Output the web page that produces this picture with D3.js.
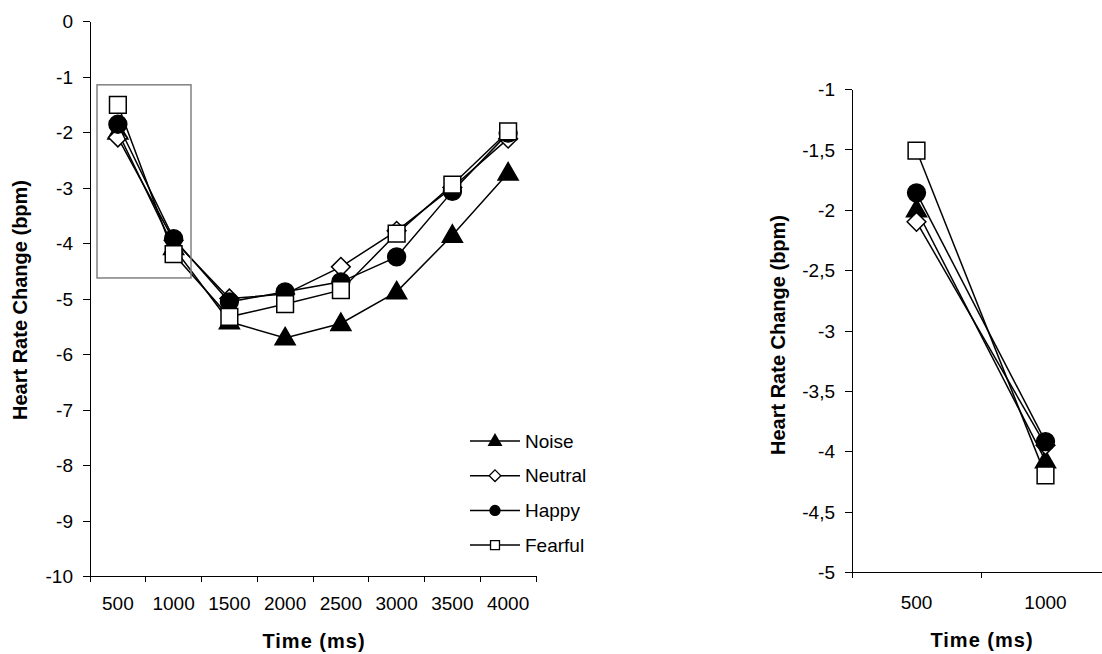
<!DOCTYPE html>
<html>
<head>
<meta charset="utf-8">
<script src="https://cdn.jsdelivr.net/npm/d3@7/dist/d3.min.js"></script>
<style>
  html, body { margin: 0; padding: 0; background: #fff; }
  svg { display: block; font-family: Arial, "Liberation Sans", sans-serif; }
  .tick text { font-size: 19px; fill: #000; }
  .axis path, .axis line { stroke: #000; stroke-width: 1; shape-rendering: crispEdges; }
  .title { font-weight: bold; font-size: 20px; fill: #000; }
</style>
</head>
<body>
<svg id="chart" width="1102" height="654"></svg>
<script>
// Time windows after stimulus onset (ms)
const times = ["500", "1000", "1500", "2000", "2500", "3000", "3500", "4000"];
const zoomTimes = ["500", "1000"];

// Mean heart rate change (bpm) per condition
const noise   = [-2.00, -4.08, -5.42, -5.71, -5.45, -4.88, -3.86, -2.74];
const neutral = [-2.10, -3.95, -5.00, -4.92, -4.43, -3.78, -3.00, -2.12];
const happy   = [-1.86, -3.92, -5.06, -4.88, -4.70, -4.25, -3.07, -2.02];
const fearful = [-1.51, -4.20, -5.33, -5.10, -4.85, -3.83, -2.95, -1.99];

const seriesNames = ["Noise", "Neutral", "Happy", "Fearful"];
const leftTicks = [0, -1, -2, -3, -4, -5, -6, -7, -8, -9, -10];
const rightTicks = [-1, -1.5, -2, -2.5, -3, -3.5, -4, -4.5, -5];

// Marker glyphs: size is the area in px²
const triangleUp = {
  draw(ctx, size) {
    const s = Math.sqrt(size / (Math.sqrt(3) / 4));
    const h = s * Math.sqrt(3) / 2;
    ctx.moveTo(0, -h * 0.6);
    ctx.lineTo(s / 2, h * 0.4);
    ctx.lineTo(-s / 2, h * 0.4);
    ctx.closePath();
  }
};
const diamond = {
  draw(ctx, size) {
    const r = Math.sqrt(size / 2);
    ctx.moveTo(0, -r); ctx.lineTo(r, 0); ctx.lineTo(0, r); ctx.lineTo(-r, 0);
    ctx.closePath();
  }
};

const series = [
  { name: "Noise", values: noise, shape: triangleUp, fill: "#000", size: 175, legSize: 70 },
  { name: "Neutral", values: neutral, shape: diamond, fill: "#fff", size: 175, legSize: 68 },
  { name: "Happy", values: happy, shape: d3.symbolCircle, fill: "#000", size: 250, legSize: 78 },
  { name: "Fearful", values: fearful, shape: d3.symbolSquare, fill: "#fff", size: 280, legSize: 80 }
];

const svg = d3.select("#chart");

function panel(cfg) {
  const x = d3.scaleBand().domain(cfg.cats).range([cfg.x0, cfg.x1]).padding(0);
  const y = d3.scaleLinear().domain(cfg.domain).range([cfg.yBottom, cfg.yTop]);
  const g = svg.append("g");

  // y axis
  g.append("g").attr("class", "axis")
    .attr("transform", `translate(${cfg.x0},0)`)
    .call(d3.axisLeft(y).tickValues(cfg.yTicks).tickSize(7).tickSizeOuter(0).tickPadding(10)
      .tickFormat(cfg.fmt))
    .call(a => a.selectAll(".tick text").attr("dy", "0.35em"));

  // x axis with ticks on band boundaries
  const xa = g.append("g").attr("class", "axis")
    .attr("transform", `translate(0,${cfg.yBottom})`);
  xa.append("line").attr("x1", cfg.x0).attr("x2", cfg.x1).attr("y1", 0).attr("y2", 0);
  const edges = cfg.cats.map(c => x(c)).concat([cfg.x1]);
  xa.selectAll("line.tk").data(edges).join("line").attr("class", "tk")
    .attr("x1", d => d).attr("x2", d => d).attr("y1", 0).attr("y2", 6);
  xa.selectAll("text").data(cfg.cats).join("text")
    .attr("x", d => x(d) + x.bandwidth() / 2).attr("y", cfg.xLabelY)
    .attr("text-anchor", "middle").attr("font-size", 19).text(d => d);

  // series lines and markers
  const line = d3.line().x((d, i) => x(cfg.cats[i]) + x.bandwidth() / 2).y(d => y(d));
  series.forEach(s => {
    const vals = s.values.slice(0, cfg.cats.length);
    g.append("path").attr("d", line(vals))
      .attr("fill", "none").attr("stroke", "#000").attr("stroke-width", 1.5);
    g.selectAll(null).data(vals).join("path")
      .attr("transform", (d, i) => `translate(${x(cfg.cats[i]) + x.bandwidth() / 2},${y(d)})`)
      .attr("d", d3.symbol().type(s.shape).size(s.size)())
      .attr("fill", s.fill).attr("stroke", "#000").attr("stroke-width", 1.5);
  });

  // axis titles
  g.append("text").attr("class", "title")
    .attr("transform", `translate(${cfg.yTitleX},${cfg.yTitleY}) rotate(-90)`)
    .attr("text-anchor", "middle").text("Heart Rate Change (bpm)");
  g.append("text").attr("class", "title")
    .attr("x", cfg.xTitleX).attr("y", cfg.xTitleY)
    .attr("text-anchor", "middle").attr("letter-spacing", "1px").text("Time (ms)");

  return { x, y, g };
}

const fmtDecimal = d => String(d).replace(".", ",");

const left = panel({
  cats: times, x0: 90, x1: 536, domain: [-10, 0], yBottom: 576, yTop: 21,
  yTicks: leftTicks, fmt: fmtDecimal, xLabelY: 34,
  yTitleX: 27, yTitleY: 300, xTitleX: 314, xTitleY: 648
});

// highlighted region covering the first two windows
left.g.append("rect")
  .attr("x", 97).attr("y", left.y(-1.15))
  .attr("width", 94).attr("height", left.y(-4.63) - left.y(-1.15))
  .attr("fill", "none").attr("stroke", "#808080").attr("stroke-width", 1.5);

// legend
const leg = svg.append("g").attr("transform", "translate(470,441)");
series.forEach((s, i) => {
  const r = leg.append("g").attr("transform", `translate(0,${i * 34.7})`);
  r.append("line").attr("x1", 0).attr("x2", 50).attr("y1", 0).attr("y2", 0)
    .attr("stroke", "#000").attr("stroke-width", 1.5);
  r.append("path").attr("transform", "translate(25,0)")
    .attr("d", d3.symbol().type(s.shape).size(s.legSize)())
    .attr("fill", s.fill).attr("stroke", "#000").attr("stroke-width", 1.3);
  r.append("text").attr("x", 55).attr("y", 0).attr("dy", "0.35em")
    .attr("font-size", 19).text(seriesNames[i]);
});

panel({
  cats: zoomTimes, x0: 852, x1: 1110, domain: [-5, -1], yBottom: 572, yTop: 89,
  yTicks: rightTicks, fmt: fmtDecimal, xLabelY: 37,
  yTitleX: 785, yTitleY: 335, xTitleX: 982, xTitleY: 647
});
</script>
</body>
</html>
